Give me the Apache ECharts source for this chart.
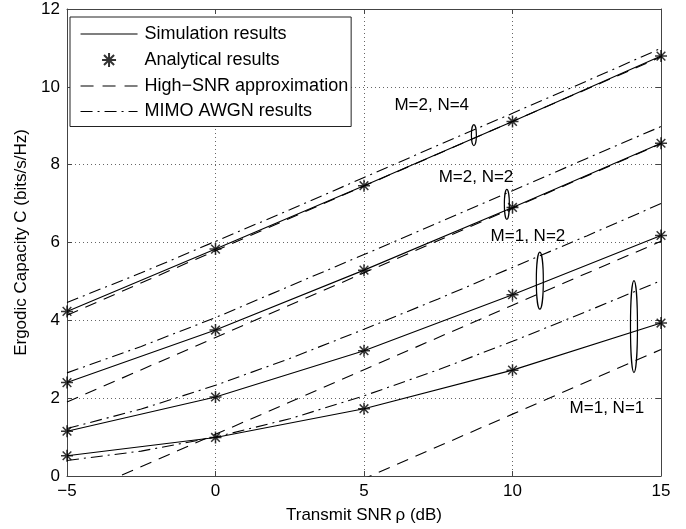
<!DOCTYPE html>
<html>
<head>
<meta charset="utf-8">
<script src="https://cdn.jsdelivr.net/npm/echarts@6/dist/echarts.min.js"></script>
<style>
  html, body { margin: 0; padding: 0; background: #fff; }
  #chart { width: 686px; height: 529px; }
</style>
</head>
<body>
<div id="chart"></div>
<script>
// SNR points (dB)
const snr = [-5, 0, 5, 10, 15];
const snrFine = [-5, -2.5, 0, 2.5, 5, 7.5, 10, 12.5, 15];

// simulation / analytical results (stars sit on the solid lines)
const sim11 = [0.52, 0.99, 1.73, 2.72, 3.93];
const sim12 = [1.15, 2.03, 3.22, 4.66, 6.18];
const sim22 = [2.40, 3.75, 5.29, 6.90, 8.55];
const sim24 = [4.23, 5.83, 7.46, 9.11, 10.79];

// high-SNR approximation (straight lines)
const hi11 = [-3.39, -1.73, -0.07, 1.59, 3.25];
const hi12 = [-0.59, 1.07, 2.73, 4.39, 6.03];
const hi22 = [1.90, 3.56, 5.22, 6.88, 8.54];
const hi24 = [4.13, 5.79, 7.45, 9.11, 10.77];

// MIMO AWGN results
const awgn11 = [0.40, 0.64, 1.00, 1.47, 2.06, 2.73, 3.46, 4.23, 5.02];
const awgn12 = [1.22, 1.72, 2.33, 3.02, 3.77, 4.55, 5.36, 6.17, 7.00];
const awgn22 = [2.65, 3.33, 4.07, 4.88, 5.69, 6.51, 7.33, 8.16, 8.98];
const awgn24 = [4.46, 5.22, 6.03, 6.84, 7.67, 8.50, 9.32, 10.15, 10.99];

const xTicks = { min: -5, max: 15, interval: 5 };
const yTicks = { min: 0, max: 12, interval: 2 };

// curve annotations: label text, label position, ellipse centre (data coords)
const notes = [
  { text: 'M=2, N=4', lx: 7.28, ly: 9.52, ex: 8.70, ey: 8.76, rx: 2.5, ry: 10.5 },
  { text: 'M=2, N=2', lx: 8.77, ly: 7.67, ex: 9.81, ey: 6.98, rx: 2.5, ry: 15 },
  { text: 'M=1, N=2', lx: 10.52, ly: 6.16, ex: 10.92, ey: 5.02, rx: 3.5, ry: 28.5 },
  { text: 'M=1, N=1', lx: 13.18, ly: 1.73, ex: 14.09, ey: 3.84, rx: 3.5, ry: 46 }
];

const FONT = 'Liberation Sans';
const star = 'path://M0,-5L0,5M-5,0L5,0M-3.6,-3.6L3.6,3.6M-3.6,3.6L3.6,-3.6';
const dashed = [12, 8];
const dashDot = [12, 5, 2, 5];

function pairs(xs, ys) {
  return xs.map((x, i) => [x, ys[i]]);
}

function lineSeries(name, xs, ys, type) {
  return {
    name: name,
    type: 'line',
    data: pairs(xs, ys),
    symbol: 'none',
    clip: true,
    lineStyle: { color: '#000', width: 1.1, type: type },
    itemStyle: { color: '#000' },
    z: 3
  };
}

const sims = [sim11, sim12, sim22, sim24];
const his = [hi11, hi12, hi22, hi24];
const awgns = [awgn11, awgn12, awgn22, awgn24];

const series = [];
sims.forEach(s => series.push(lineSeries('Simulation results', snr, s, 'solid')));
series.push({
  name: 'Analytical results',
  type: 'scatter',
  data: [].concat(...sims.map(s => pairs(snr, s))),
  symbol: star,
  symbolSize: 12,
  itemStyle: { color: 'none', borderColor: '#000', borderWidth: 1.5 },
  z: 5
});
his.forEach(s => series.push(lineSeries('High\u2212SNR approximation', snr, s, dashed)));
awgns.forEach(s => series.push(lineSeries('MIMO AWGN results', snrFine, s, dashDot)));

const tickText = v => String(v).replace('-', '\u2212');
const axisCommon = {
  type: 'value',
  axisLine: { show: true, onZero: false, lineStyle: { color: '#444', width: 1 } },
  axisTick: { show: true, inside: true, length: 5, lineStyle: { color: '#444' } },
  axisLabel: { color: '#000', fontFamily: FONT, fontSize: 17, formatter: tickText },
  nameTextStyle: { color: '#000', fontFamily: FONT, fontSize: 17 }
};
const gridDots = { show: true, lineStyle: { color: '#666', width: 1, type: [1, 3] } };
const noMarker = { color: 'transparent', borderColor: 'transparent', borderWidth: 0, opacity: 0 };

const chart = echarts.init(document.getElementById('chart'));
chart.setOption({
  animation: false,
  backgroundColor: '#fff',
  textStyle: { fontFamily: FONT },
  grid: { left: 67, right: 25, top: 9, bottom: 52 },
  legend: {
    data: [
      { name: 'Simulation results', itemStyle: noMarker },
      { name: 'Analytical results' },
      { name: 'High\u2212SNR approximation', itemStyle: noMarker, lineStyle: { type: [13, 9], width: 1.1 } },
      { name: 'MIMO AWGN results', itemStyle: noMarker }
    ],
    orient: 'vertical',
    left: 70,
    top: 17,
    padding: [8, 3, 6, 10],
    itemGap: 7.5,
    itemWidth: 57,
    itemHeight: 14,
    lineStyle: { width: 1.1 },
    backgroundColor: '#fff',
    borderColor: '#222',
    borderWidth: 1,
    borderRadius: 0,
    textStyle: { color: '#000', fontFamily: FONT, fontSize: 18, padding: [0, 0, 0, 2] }
  },
  xAxis: [
    Object.assign({}, axisCommon, xTicks, {
      position: 'bottom',
      name: 'Transmit SNR\u2009\u03c1 (dB)',
      nameLocation: 'middle',
      nameGap: 31,
      axisLabel: Object.assign({}, axisCommon.axisLabel, { margin: 7 }),
      splitLine: gridDots
    }),
    Object.assign({}, axisCommon, xTicks, {
      position: 'top',
      axisLabel: { show: false },
      splitLine: { show: false }
    })
  ],
  yAxis: [
    Object.assign({}, axisCommon, yTicks, {
      position: 'left',
      name: 'Ergodic Capacity C (bits/s/Hz)',
      nameLocation: 'middle',
      nameGap: 37,
      axisLabel: Object.assign({}, axisCommon.axisLabel, { margin: 7 }),
      splitLine: gridDots
    }),
    Object.assign({}, axisCommon, yTicks, {
      position: 'right',
      axisLabel: { show: false },
      splitLine: { show: false }
    })
  ],
  series: series
});

// labels and ellipses marking each curve group
const graphics = [];
notes.forEach(n => {
  const lp = chart.convertToPixel({ gridIndex: 0 }, [n.lx, n.ly]);
  const ep = chart.convertToPixel({ gridIndex: 0 }, [n.ex, n.ey]);
  graphics.push({
    type: 'text',
    x: lp[0], y: lp[1],
    style: { text: n.text, fill: '#000', font: '17px "' + FONT + '"', align: 'center', verticalAlign: 'middle' },
    z: 10
  });
  graphics.push({
    type: 'ellipse',
    shape: { cx: ep[0], cy: ep[1], rx: n.rx, ry: n.ry },
    style: { fill: 'none', stroke: '#000', lineWidth: 1.2 },
    z: 10
  });
});
chart.setOption({ graphic: graphics });
</script>
</body>
</html>
